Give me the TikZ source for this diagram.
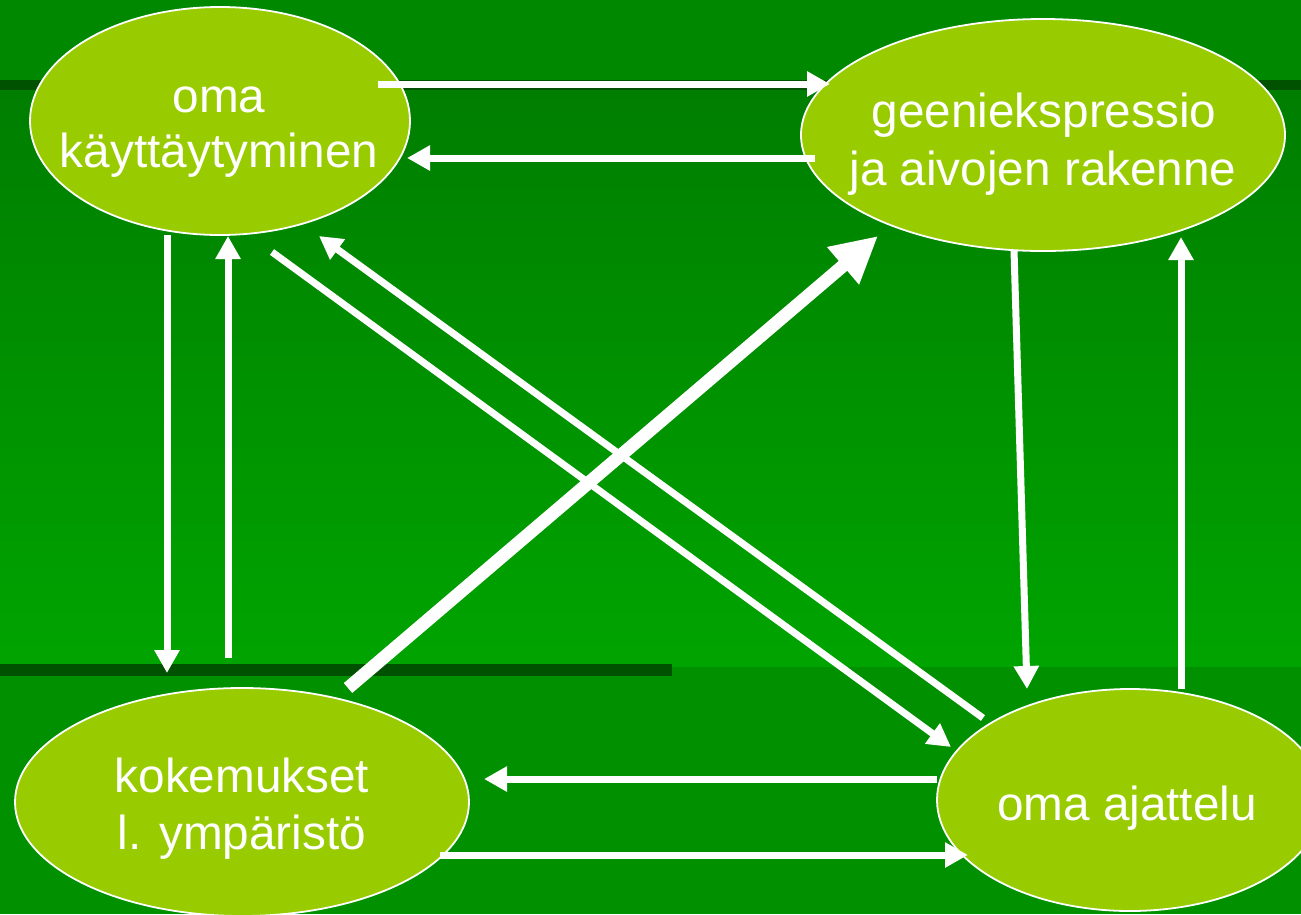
\documentclass[tikz,border=0pt]{standalone}
\usepackage{fontspec}
\setmainfont{Liberation Sans}
\usetikzlibrary{arrows.meta,shapes.geometric,calc}

\definecolor{bandtop}{HTML}{008800}
\definecolor{bandmidA}{HTML}{007E00}
\definecolor{bandmidB}{HTML}{00A400}
\definecolor{bandlow}{HTML}{009000}
\definecolor{rule}{HTML}{005200}
\definecolor{blobfill}{HTML}{99CC00}

\tikzset{
  blob/.style={ellipse, draw=white, line width=1.8pt, fill=blobfill, inner sep=0pt},
  lbl/.style={text=white, anchor=base, inner sep=0pt, font=\fontsize{47.7}{56}\selectfont},
  link/.style={draw=white, line width=7pt, -{Triangle[length=23pt,width=24pt]}},
  biglink/.style={draw=white, line width=13pt, -{Triangle[length=46pt,width=46pt]}}
}

\begin{document}
\begin{tikzpicture}[x=1pt,y=-1pt]
\useasboundingbox (0,0) rectangle (1301,914);

% background bands and rules
\fill[bandtop] (0,0) rectangle (1301,90);
\shade[top color=bandmidA, bottom color=bandmidB] (0,90) rectangle (1301,667);
\fill[bandlow] (0,667) rectangle (1301,914);
\fill[rule] (0,80) rectangle (1301,90);
\fill[rule] (0,664) rectangle (672,676);

% the four ellipses
\node[blob, minimum width=380pt, minimum height=228pt] (beh)  at (220,121) {};
\node[blob, minimum width=484pt, minimum height=232pt] (gene) at (1043,135) {};
\node[blob, minimum width=454pt, minimum height=228pt] (exp)  at (242,802) {};
\node[blob, minimum width=386pt, minimum height=222pt] (mind) at (1130,800) {};

% labels
\node[lbl] (behA)  at (219,112) {oma};
\node[lbl] (behB)  at (219,167) {käyttäytyminen};
\node[lbl] (geneA) at (1044,127) {geeniekspressio};
\node[lbl] (geneB) at (1043,185) {ja aivojen rakenne};
\node[lbl] (expA)  at (242,792) {kokemukset};
\node[lbl] (expB)  at (242,849) {l. ympäristö};
\node[lbl] (mindA) at (1127,820) {oma ajattelu};

% connectors
\draw[link] ($(beh)+(158,-37)$) -- ($(gene)+(-213,-51)$);
\draw[link] ($(gene)+(-228,23)$) -- ($(beh)+(187,37)$);
\draw[link] ($(beh)+(-53,114)$) -- ($(exp)+(-75,-129)$);
\draw[link] ($(exp)+(-14,-144)$) -- ($(beh)+(8,115)$);
\draw[link] ($(beh)+(52,131)$) -- ($(mind)+(-179,-53)$);
\draw[link] ($(mind)+(-147,-82)$) -- ($(beh)+(99,115)$);
\draw[biglink] ($(exp)+(106,-114)$) -- ($(gene)+(-165,101)$);
\draw[link] ($(gene)+(-29,115)$) -- ($(mind)+(-103,-111)$);
\draw[link] ($(mind)+(51,-111)$) -- ($(gene)+(138,102)$);
\draw[link] ($(mind)+(-193,-21)$) -- ($(exp)+(242,-23)$);
\draw[link] ($(exp)+(198,53)$) -- ($(mind)+(-162,55)$);
\end{tikzpicture}
\end{document}
